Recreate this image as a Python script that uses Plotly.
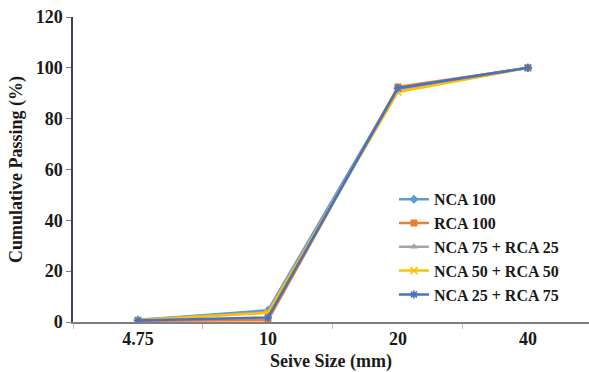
import plotly.graph_objects as go

sieve_sizes = ["4.75", "10", "20", "40"]

series_names = ["NCA 100", "RCA 100", "NCA 75 + RCA 25", "NCA 50 + RCA 50", "NCA 25 + RCA 75"]
nca100 = [0.8, 4.6, 92.0, 100.0]
rca100 = [0.5, 0.7, 92.5, 100.0]
nca75_rca25 = [1.0, 3.8, 91.0, 100.0]
nca50_rca50 = [0.7, 3.6, 90.5, 100.0]
nca25_rca75 = [0.6, 1.8, 92.0, 100.0]

colors = ["#5B9BD5", "#ED7D31", "#A5A5A5", "#FFC000", "#4472C4"]
symbols = ["diamond", "square", "triangle-up", "x-thin", "asterisk"]
values = [nca100, rca100, nca75_rca25, nca50_rca50, nca25_rca75]

font_family = "Liberation Serif, Times New Roman, serif"

fig = go.Figure()
for name, vals, color, sym in zip(series_names, values, colors, symbols):
    thin = sym in ("x-thin", "asterisk")
    fig.add_trace(go.Scatter(
        x=sieve_sizes, y=vals, name="<b>" + name + "</b>", mode="lines+markers",
        line=dict(color=color, width=2.5),
        marker=dict(symbol=sym, size=7, color=color,
                    line=dict(color=color, width=1.5 if thin else 0)),
    ))

fig.update_layout(
    width=589, height=372,
    margin=dict(l=73, r=0, t=17, b=50),
    paper_bgcolor="white", plot_bgcolor="white",
    font=dict(family=font_family, color="#1a1a1a", size=18),
    showlegend=True,
    legend=dict(
        x=0.622, y=0.458, xanchor="left", yanchor="top",
        font=dict(family=font_family, size=16, color="#1a1a1a"),
        bgcolor="rgba(0,0,0,0)", tracegroupgap=0, itemwidth=30,
    ),
    xaxis=dict(
        type="category", range=[-0.5, 3.47],
        showline=True, linecolor="#7f7f7f", linewidth=1.5,
        ticks="outside", tickson="boundaries", ticklen=5, tickcolor="#bfbfbf",
        showgrid=False, zeroline=False,
        tickfont=dict(family=font_family, size=18, color="#1a1a1a"),
        title=dict(text="<b>Seive Size (mm)</b>", standoff=6,
                   font=dict(family=font_family, size=18, color="#1a1a1a")),
        tickprefix="<b>", ticksuffix="</b>",
    ),
    yaxis=dict(
        range=[0, 120], dtick=20,
        showline=True, linecolor="#404050", linewidth=1.5,
        ticks="outside", ticklen=5, tickcolor="#7f7f7f",
        showgrid=False, zeroline=False,
        tickfont=dict(family=font_family, size=18, color="#1a1a1a"),
        tickprefix="<b>", ticksuffix="</b>",
        title=dict(text="<b>Cumulative Passing (%)</b>", standoff=8,
                   font=dict(family=font_family, size=18, color="#1a1a1a")),
    ),
)

fig.write_html("out.html")
